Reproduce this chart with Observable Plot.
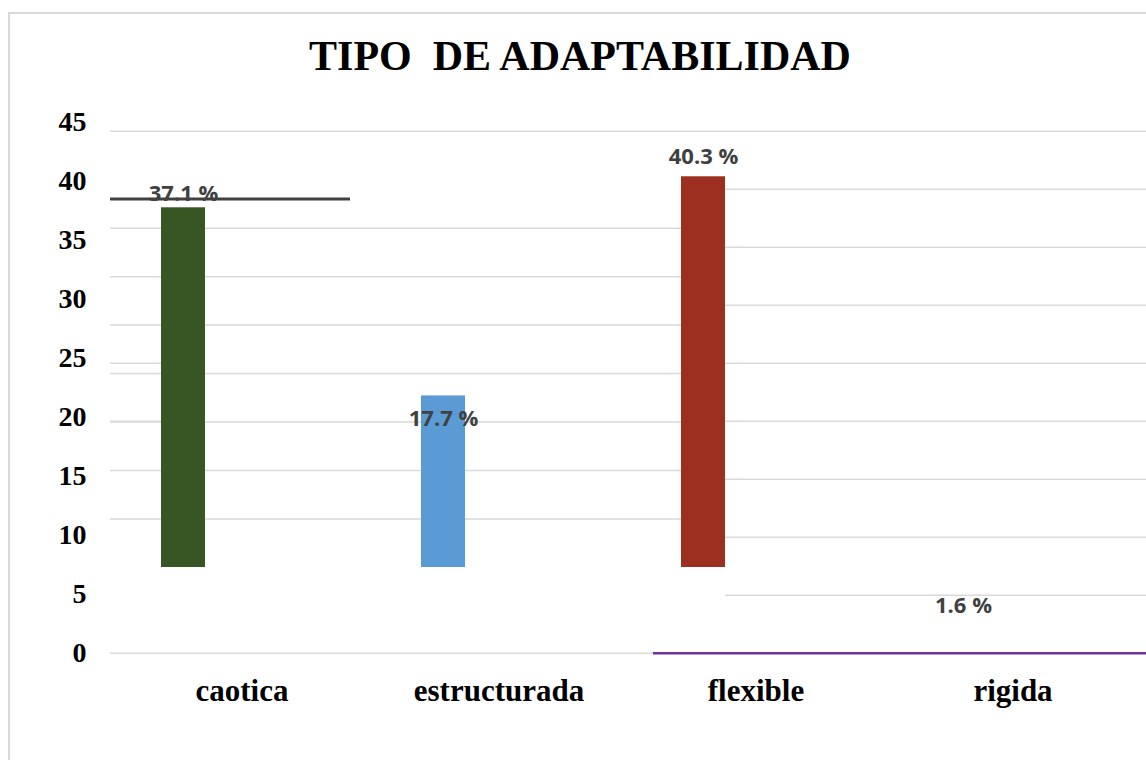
<!DOCTYPE html>
<html>
<head>
<meta charset="utf-8">
<script src="https://cdn.jsdelivr.net/npm/d3@7"></script>
<script src="https://cdn.jsdelivr.net/npm/@observablehq/plot@0.6"></script>
<style>
  html, body { margin: 0; padding: 0; background: #fff; }
  #chart { position: relative; width: 1146px; height: 760px; overflow: hidden; background: #fff; }
  #frame { position: absolute; left: 8px; top: 12px; right: -10px; bottom: -10px;
           border-left: 2px solid #d9d9d9; border-top: 2px solid #d9d9d9; }
  #title { position: absolute; left: 7px; width: 1146px; top: 35px; text-align: center;
           font-family: "Liberation Serif", "Times New Roman", serif; font-weight: bold;
           font-size: 42px; line-height: 42px; white-space: pre; color: #000; }
  #chart svg { position: absolute; left: 0; top: 0; }
</style>
</head>
<body>
<div id="chart">
  <div id="frame"></div>
  <div id="title">TIPO  DE ADAPTABILIDAD</div>
</div>
<script>
// ---- data ----
const categories = ["caotica", "estructurada", "flexible", "rigida"];
const values = [37.1, 17.7, 40.3, 1.6];
const colors = ["#375623", "#5b9bd5", "#9c2f1f", "#7030a0"];
const yTicks = [0, 5, 10, 15, 20, 25, 30, 35, 40, 45];
const leftGridTicks = [5, 10, 15, 20, 25, 30, 35, 45];
const rightGridTicks = [5, 10, 15, 20, 25, 30, 35, 40, 45];
const stubGridTicks = [20, 25];
const darkLine = [38];

const data = categories.map((c, i) => ({category: c, value: values[i]}));

// ---- layout ----
const W = 1146, H = 760;
const chart = document.getElementById("chart");
const yAxisRange = [652.7, 130.7];   // gridlines on the right / baseline
const yBarRange = [567, 130.7];      // bars and left gridlines
const yLabelRange = [652.5, 122];    // axis tick labels
const xLabelRange = [112, 1142];
const xBarRange = [52, 1094];
const grid = "#d9d9d9";
const serif = "'Liberation Serif', 'Times New Roman', serif";

function layer(opts) {
  const svg = Plot.plot({
    width: W, height: H, marginTop: 0, marginBottom: 0,
    ...opts,
    style: {background: "transparent", overflow: "visible", ...(opts.style || {})}
  });
  chart.appendChild(svg);
}

// right-hand gridlines
layer({
  marginLeft: 725, marginRight: 0,
  y: {domain: [0, 45], range: yAxisRange, axis: null},
  marks: [Plot.ruleY(rightGridTicks, {stroke: grid, strokeWidth: 1.5})]
});

// left-hand gridlines (bar scale)
layer({
  marginLeft: 110, marginRight: W - 725,
  y: {domain: [0, 45], range: yBarRange, axis: null},
  marks: [Plot.ruleY(leftGridTicks, {stroke: grid, strokeWidth: 1.5})]
});

// short grid stubs left of first bar
layer({
  marginLeft: 110, marginRight: W - 167,
  y: {domain: [0, 45], range: yAxisRange, axis: null},
  marks: [Plot.ruleY(stubGridTicks, {stroke: grid, strokeWidth: 1.5})]
});

// bars
layer({
  marginLeft: 0, marginRight: 0,
  x: {type: "band", domain: categories, range: xBarRange, padding: 0, axis: null},
  y: {domain: [0, 45], range: yBarRange, axis: null},
  color: {domain: categories, range: colors},
  marks: [
    Plot.barY(data.filter(d => d.category !== "rigida"), {
      x: "category", y: "value", fill: "category", insetLeft: 108, insetRight: 108
    })
  ]
});

// dark line
layer({
  marginLeft: 110, marginRight: W - 350,
  y: {domain: [0, 45], range: yBarRange, axis: null},
  marks: [Plot.ruleY(darkLine, {stroke: "#404040", strokeWidth: 3})]
});

// baseline: grey then purple
layer({
  marginLeft: 110, marginRight: W - 653,
  y: {domain: [0, 45], range: yAxisRange, axis: null},
  marks: [Plot.ruleY([0], {stroke: grid, strokeWidth: 1.5})]
});
layer({
  marginLeft: 653, marginRight: 0,
  y: {domain: [0, 45], range: yAxisRange, axis: null},
  marks: [Plot.ruleY([0], {stroke: colors[3], strokeWidth: 2.5})]
});

// axes
layer({
  marginLeft: 110, marginRight: 0, marginBottom: H - 652.7,
  x: {type: "band", domain: categories, range: xLabelRange, padding: 0},
  y: {domain: [0, 45], range: yLabelRange},
  style: {fontFamily: serif, color: "#000"},
  marks: [
    Plot.axisY(yTicks, {tickSize: 0, tickPadding: 24, fontSize: 28, fontWeight: "bold",
                        fontFamily: serif, fill: "#000", label: null}),
    Plot.axisX({tickSize: 0, tickPadding: 26, fontSize: 31, fontWeight: "bold",
                fontFamily: serif, fill: "#000", label: null})
  ]
});

// data labels
layer({
  marginLeft: 0, marginRight: 0,
  x: {type: "band", domain: categories, range: xBarRange, padding: 0, axis: null},
  y: {domain: [0, 45], range: yAxisRange, axis: null},
  marks: [
    Plot.text(data, {
      x: "category", y: "value", text: d => `${d.value.toFixed(1)} %`,
      dy: -29, fontSize: 22, fontWeight: 700, fontFamily: "'Open Sans', sans-serif", fill: "#404040"
    })
  ]
});
</script>
</body>
</html>
